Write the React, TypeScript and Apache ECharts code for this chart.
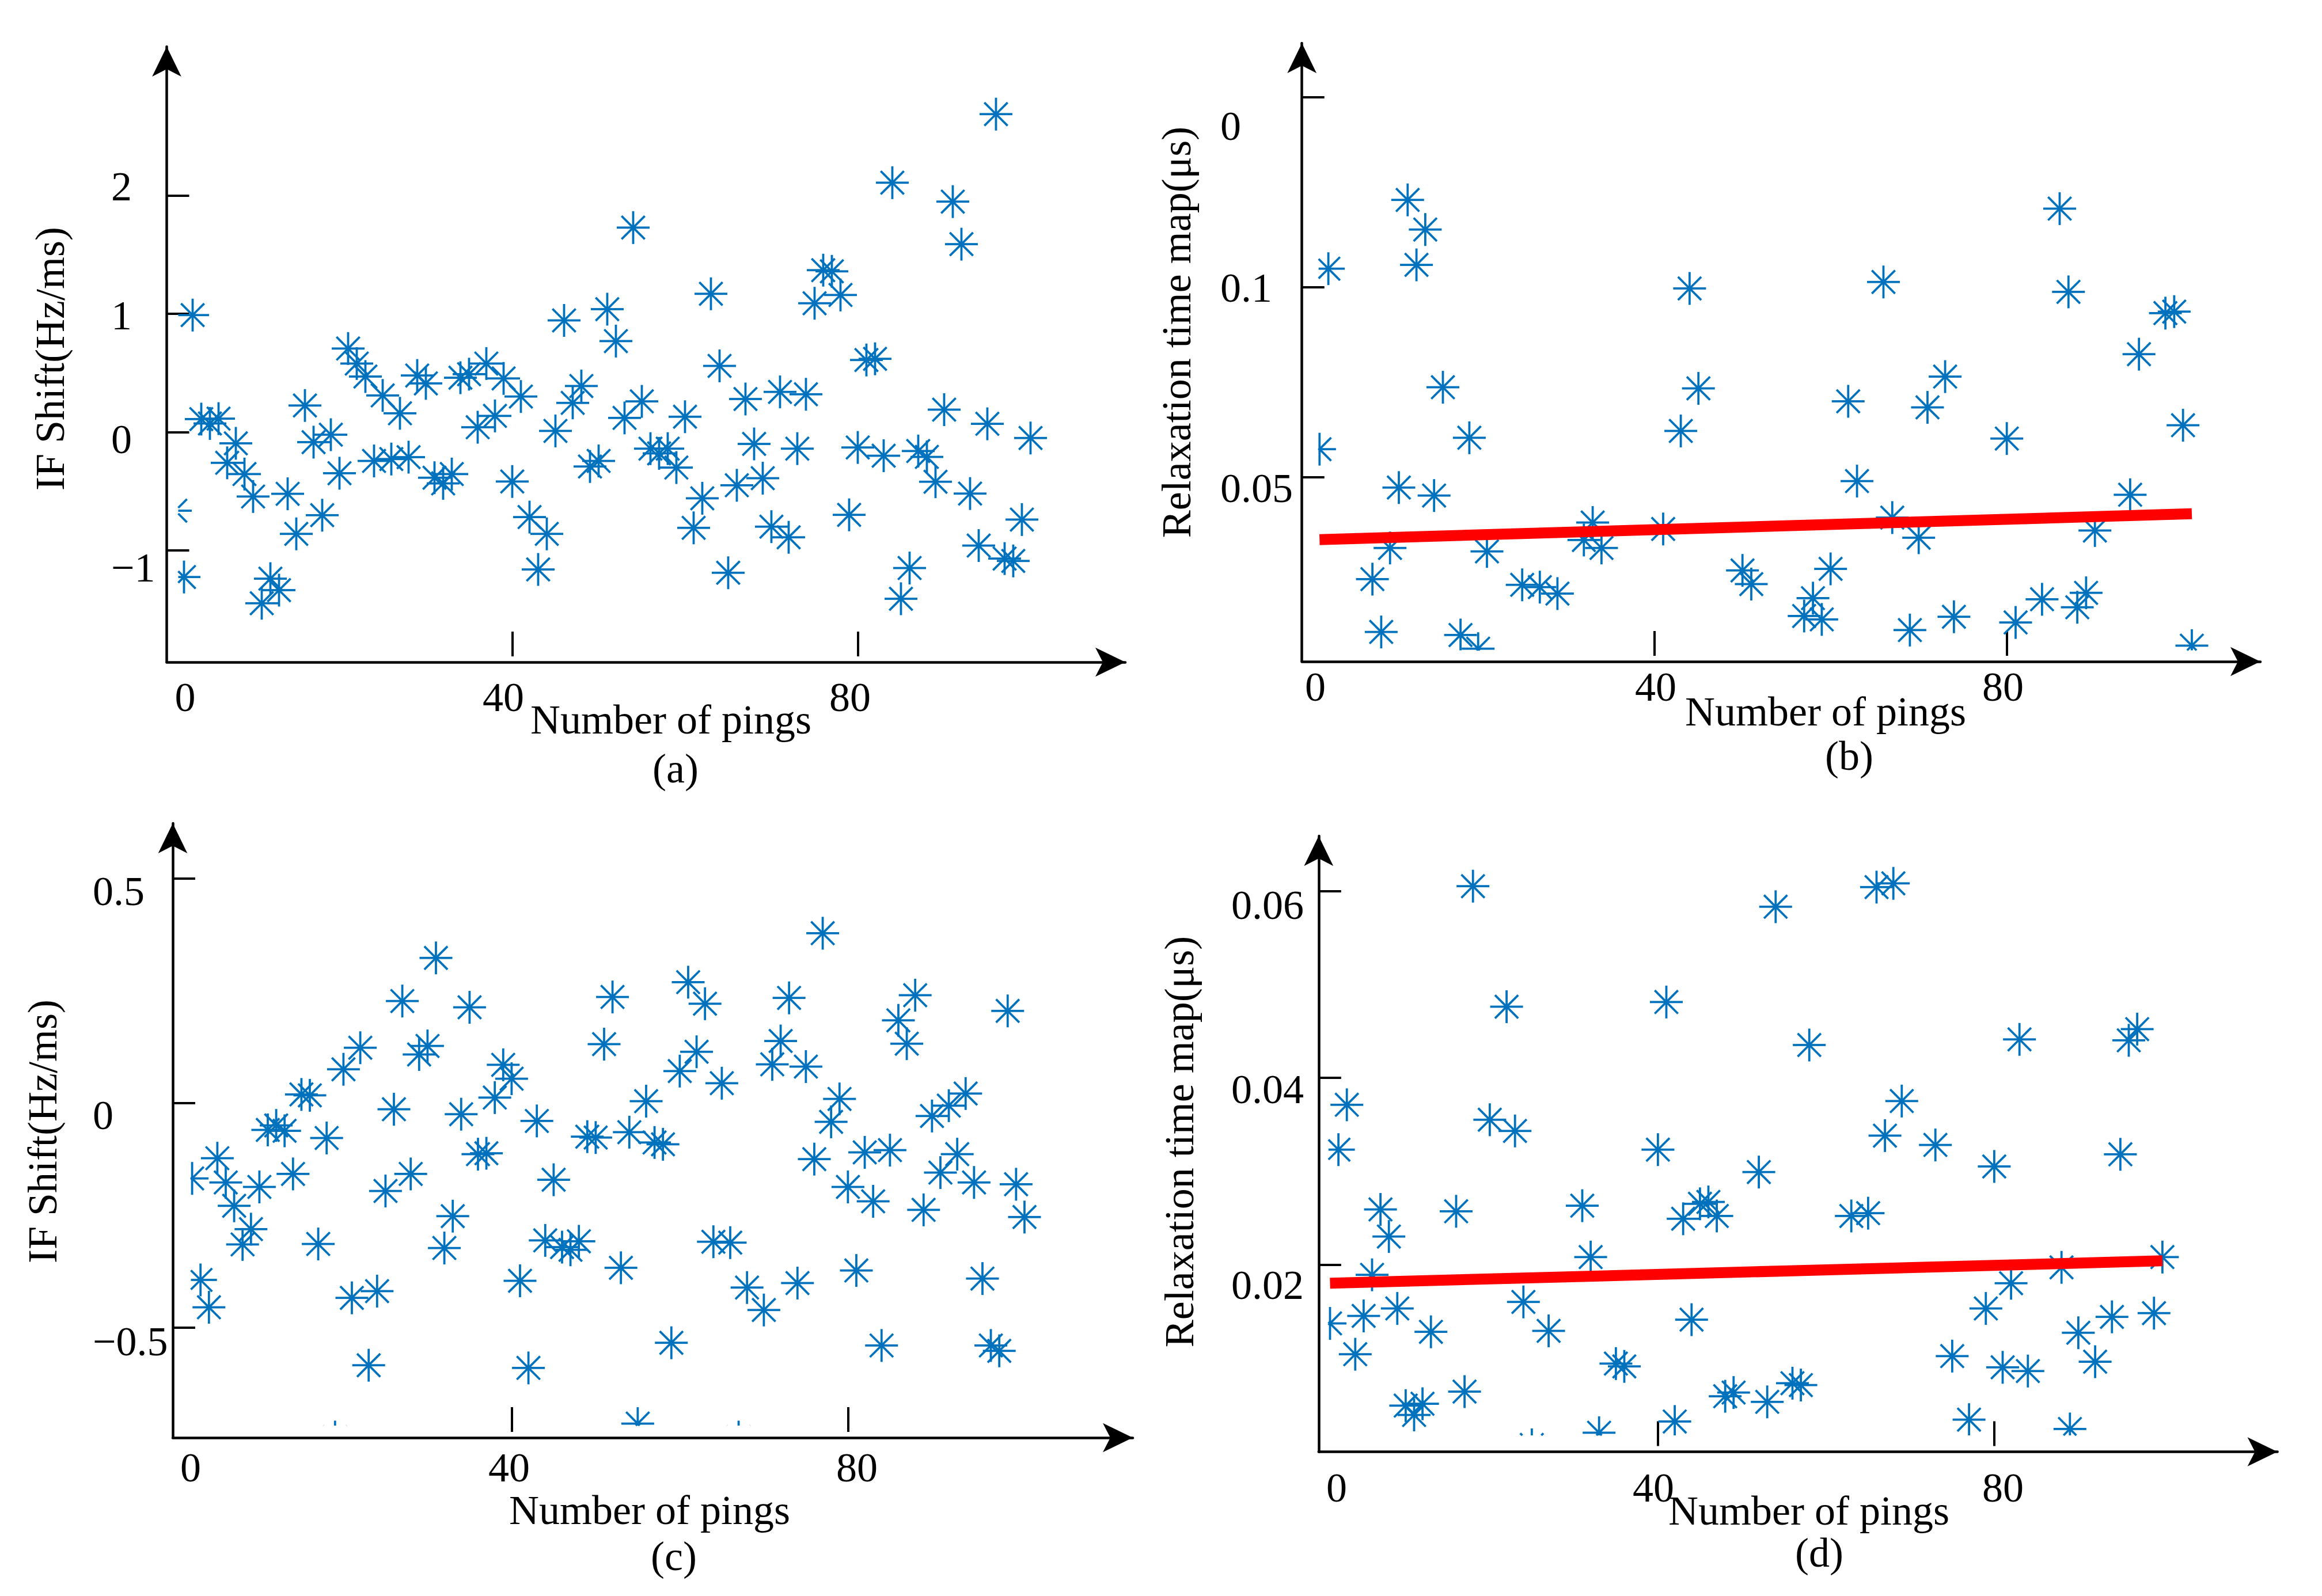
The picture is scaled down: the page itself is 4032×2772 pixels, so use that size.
import React, { useEffect, useRef } from 'react';
import * as echarts from 'echarts';

const FONT = 'Liberation Serif';
const BLUE = '#0072BD';
const RED = '#FF0000';
const STAR_R = 28.5;
const STAR_W = 3.8;

// ---------- data ----------
// (a) IF shift, pings 1..100
const pingsA = [1,2,3,4,5,6,7,8,9,10,11,12,13,14,15,16,17,18,19,20,21,22,23,24,25,26,27,28,29,30,31,32,33,34,35,36,37,38,39,40,41,42,43,44,45,46,47,48,49,50,51,52,53,54,55,56,57,58,59,60,61,62,63,64,65,66,67,68,69,70,71,72,73,74,75,76,77,78,79,80,81,82,83,84,85,86,87,88,89,90,91,92,93,94,95,96,97,98,99,100];
const ifShiftA = [
  -0.665, -1.226, 0.99, 0.11, 0.073, 0.114, -0.26, -0.095, -0.355, -0.545,
  -1.448, -1.24, -1.337, -0.522, -0.861, 0.225, -0.085, -0.703, -0.022, -0.348,
  0.707, 0.58, 0.47, -0.244, 0.31, -0.228, 0.159, -0.212, 0.479, 0.412,
  -0.386, -0.434, -0.355, 0.46, 0.49, 0.041, 0.58, 0.137, 0.454, -0.418,
  0.301, -0.719, -1.162, -0.861, 0.01, 0.945, 0.247, 0.39, -0.291, -0.244,
  1.04, 0.77, 0.12, 1.73, 0.26, -0.14, -0.18, -0.14, -0.3, 0.13,
  -0.81, -0.56, 1.17, 0.56, -1.19, -0.45, 0.28, -0.1, -0.39, -0.8,
  0.34, -0.89, -0.14, 0.32, 1.09, 1.37, 1.36, 1.16, -0.7, -0.13,
  0.61, 0.62, -0.2, 2.11, -1.41, -1.15, -0.16, -0.21, -0.42, 0.19,
  1.95, 1.59, -0.52, -0.96, 0.07, 2.69, -1.07, -1.09, -0.74, -0.05,
];

// (b) relaxation time
const pingsB = [2,3,8,9,10,11,12,13,14,15,16,18,19,20,21,25,27,29,32,33,34,41,43,44,45,50,51,57,58,59,60,62,63,66,67,69,70,71,73,74,80,81,84,86,87,88,89,90,94,95,98,99,100,101];
const relaxB = [
  0.0574, 0.1049, 0.0232, 0.0093, 0.0314, 0.0473, 0.123, 0.1059, 0.1152, 0.0452,
  0.0737, 0.0085, 0.0604, 0.0049, 0.0305, 0.0217, 0.0211, 0.0194, 0.0335, 0.0381,
  0.0314, 0.0364, 0.0622, 0.0997, 0.0734, 0.0255, 0.0219, 0.0135, 0.0182, 0.0126,
  0.0259, 0.07, 0.049, 0.1014, 0.0394, 0.0098, 0.0341, 0.0684, 0.0765, 0.0133,
  0.0602, 0.0118, 0.0179, 0.1207, 0.0988, 0.0158, 0.0196, 0.036, 0.0454, 0.0824,
  0.0932, 0.0936, 0.0637, 0.0057,
];
const trendPingsB = [2, 101];
const trendB = [0.0336, 0.0404];

// (c) IF shift
const pingsC = [2,3,4,5,6,7,8,9,10,11,12,13,14,15,16,17,18,19,20,21,22,23,24,25,26,27,28,29,30,31,32,33,34,35,36,37,38,39,40,41,42,43,44,45,46,47,48,49,50,51,52,53,54,55,56,57,58,59,60,61,62,63,64,65,66,67,68,70,71,72,73,74,75,76,77,78,79,80,81,82,83,84,85,86,87,88,89,90,91,92,93,94,95,96,97,98,99,100,101];
const ifShiftC = [
  -0.168, -0.394, -0.455, -0.123, -0.177, -0.229, -0.315, -0.281, -0.187, -0.06,
  -0.05, -0.062, -0.158, 0.019, 0.017, -0.314, -0.078, -0.744, 0.075, -0.434,
  0.123, -0.584, -0.419, -0.196, -0.014, 0.227, -0.158, 0.108, 0.127, 0.323,
  -0.323, -0.252, -0.025, 0.213, -0.114, -0.112, 0.012, 0.085, 0.054, -0.396,
  -0.59, -0.04, -0.306, -0.171, -0.321, -0.327, -0.308, -0.075, -0.077, 0.131,
  0.236, -0.367, -0.065, -0.714, 0.004, -0.088, -0.092, -0.534, 0.071, 0.269,
  0.114, 0.221, -0.309, 0.044, -0.311, -0.744, -0.411, -0.461, 0.086, 0.138,
  0.234, -0.401, 0.081, -0.125, 0.378, -0.042, 0.009, -0.187, -0.373, -0.11,
  -0.219, -0.54, -0.105, 0.184, 0.132, 0.24, -0.238, -0.029, -0.155, -0.006,
  -0.114, 0.021, -0.177, -0.391, -0.54, -0.552, 0.205, -0.181, -0.254,
];

// (d) relaxation time
const pingsD = [1,2,3,4,5,6,7,8,9,10,11,12,13,16,17,18,20,22,23,24,25,27,31,32,33,35,36,40,41,42,43,44,45,46,47,48,49,52,53,54,56,57,58,63,65,66,67,68,69,73,75,77,79,80,81,82,83,84,88,89,90,92,94,95,96,97,99,100];
const relaxD = [
  0.0137, 0.0323, 0.0371, 0.0104, 0.0145, 0.0189, 0.0259, 0.023, 0.0153, 0.0049,
  0.0039, 0.0051, 0.0128, 0.0257, 0.0064, 0.0605, 0.0355, 0.0476, 0.0343, 0.016,
  0.0007, 0.0129, 0.0263, 0.0208, 0.002, 0.0094, 0.0091, 0.0323, 0.0481, 0.0032,
  0.0249, 0.0141, 0.0265, 0.0267, 0.0252, 0.0059, 0.0063, 0.0299, 0.0053, 0.0583,
  0.0073, 0.0071, 0.0435, 0.0252, 0.0255, 0.0604, 0.0338, 0.0608, 0.0375, 0.0328,
  0.0102, 0.0034, 0.0153, 0.0305, 0.009, 0.018, 0.0441, 0.0086, 0.0197, 0.0024,
  0.0127, 0.0096, 0.0144, 0.0318, 0.044, 0.0452, 0.0148, 0.0208,
];
const trendPingsD = [1, 100];
const trendD = [0.018, 0.0204];

// tick values and tick label texts
const xTickValues = [0, 40, 80];
const xTickLabels = ['0', '40', '80'];
const xTickMarks = [40, 80];
const yTickValuesA = [2, 1, 0, -1];
const yTickLabelsA = ['2', '1', '0', '\u22121'];
const yTickValuesB = [0.15, 0.1, 0.05];
const yTickLabelsB = ['0', '0.1', '0.05'];
const yTickValuesC = [0.5, 0, -0.5];
const yTickLabelsC = ['0.5', '0', '\u22120.5'];
const yTickValuesD = [0.06, 0.04, 0.02];
const yTickLabelsD = ['0.06', '0.04', '0.02'];

const IF_TITLE = 'IF Shift(Hz/ms)';
const RT_TITLE = 'Relaxation time map(\u03bcs)';
const X_TITLE = 'Number of pings';

// ---------- layout / style ----------
const PANELS = [
  {
    pings: pingsA, values: ifShiftA, trendX: null, trendY: null,
    grid: { left: 289.5, top: 81, width: 1664.5, height: 1069 },
    xRange: [0, 110.97], yRange: [-1.946, 3.261],
    clip: { l: 20, t: 0, r: 0, b: 20 },
    yTicks: yTickValuesA, yLabels: yTickLabelsA, yDy: [-16, 3, 13, 30], yMargin: 96.5,
    xDx: [32, -15.5, -13.5], xMargin: 25,
    yTitle: { x: 87, y: 623, text: IF_TITLE },
    xTitle: { x: 1165, y: 1250 }, caption: { x: 1173, y: 1335, text: '(a)' },
  },
  {
    pings: pingsB, values: relaxB, trendX: trendPingsB, trendY: trendB,
    grid: { left: 2260.7, top: 75, width: 1664.3, height: 1074 },
    xRange: [0, 108.78], yRange: [0.001515, 0.16424],
    clip: { l: 29, t: 0, r: 0, b: 19.5 },
    yTicks: yTickValuesB, yLabels: yTickLabelsB, yDy: [50, 1, 19], yMargin: 141.7,
    xDx: [23.3, 2.3, -6.7], xMargin: 8,
    yTitle: { x: 2043, y: 577, text: RT_TITLE },
    xTitle: { x: 3170, y: 1236 }, caption: { x: 3211, y: 1313, text: '(b)' },
  },
  {
    pings: pingsC, values: ifShiftC, trendX: null, trendY: null,
    grid: { left: 300, top: 1430, width: 1667, height: 1067 },
    xRange: [-0.3014, 113.88], yRange: [-0.7453, 0.6227],
    clip: { l: 31.5, t: 0, r: 0, b: 21 },
    yTicks: yTickValuesC, yLabels: yTickLabelsC, yDy: [22, 21, 24], yMargin: 139,
    xDx: [26.6, -4.4, 15.6], xMargin: 16,
    yTitle: { x: 74, y: 1965, text: IF_TITLE },
    xTitle: { x: 1128, y: 2623 }, caption: { x: 1170, y: 2703, text: '(c)' },
  },
  {
    pings: pingsD, values: relaxD, trendX: trendPingsD, trendY: trendD,
    grid: { left: 2289.8, top: 1452, width: 1664.8, height: 1069.5 },
    xRange: [-0.3493, 113.68], yRange: [-0.00004, 0.06587],
    clip: { l: 17, t: 0, r: 0, b: 28.5 },
    yTicks: yTickValuesD, yLabels: yTickLabelsD, yDy: [25, 20, 36], yMargin: 151.8,
    xDx: [26, -8, 15], xMargin: 26,
    yTitle: { x: 2048, y: 1983, text: RT_TITLE },
    xTitle: { x: 3141, y: 2624 }, caption: { x: 3159, y: 2697, text: '(d)' },
  },
];

function clipSeg(x0: number, y0: number, x1: number, y1: number, r: any) {
  let t0 = 0, t1 = 1;
  const dx = x1 - x0, dy = y1 - y0;
  const p = [-dx, dx, -dy, dy];
  const q = [x0 - r.x1, r.x2 - x0, y0 - r.y1, r.y2 - y0];
  for (let i = 0; i < 4; i++) {
    if (Math.abs(p[i]) < 1e-9) {
      if (q[i] < 0) return null;
    } else {
      const t = q[i] / p[i];
      if (p[i] < 0) {
        if (t > t1) return null;
        if (t > t0) t0 = t;
      } else {
        if (t < t0) return null;
        if (t < t1) t1 = t;
      }
    }
  }
  if (t1 - t0 < 1e-6) return null;
  return [x0 + t0 * dx, y0 + t0 * dy, x0 + t1 * dx, y0 + t1 * dy];
}

function makeStarRenderer(clip: any) {
  return (params: any, api: any) => {
    const cs = params.coordSys;
    const rect = { x1: cs.x + clip.l, y1: cs.y + clip.t, x2: cs.x + cs.width - clip.r, y2: cs.y + cs.height - clip.b };
    const c = api.coord([api.value(0), api.value(1)]);
    const children: any[] = [];
    for (let a = 0; a < 8; a++) {
      const ang = (a * Math.PI) / 4;
      const seg = clipSeg(c[0], c[1], c[0] + Math.cos(ang) * STAR_R, c[1] + Math.sin(ang) * STAR_R, rect);
      if (seg) {
        children.push({
          type: 'line',
          shape: { x1: seg[0], y1: seg[1], x2: seg[2], y2: seg[3] },
          style: { stroke: BLUE, lineWidth: STAR_W, fill: null },
        });
      }
    }
    return { type: 'group', children };
  };
}

function richFor(texts: string[], dx: number[], dy: number[]) {
  const rich: Record<string, any> = {};
  texts.forEach((_, i) => {
    rich['t' + i] = {
      fontFamily: FONT, fontSize: 72, color: '#000',
      padding: [Math.max(0, 2 * dy[i]), Math.max(0, -2 * dx[i]), Math.max(0, -2 * dy[i]), Math.max(0, 2 * dx[i])],
    };
  });
  return rich;
}
function formatterFor(values: number[], texts: string[]) {
  return (v: any) => {
    const n = Number(v);
    const i = values.findIndex((u) => Math.abs(u - n) < 1e-9);
    return i < 0 ? '' : '{t' + i + '|' + texts[i] + '}';
  };
}

function buildOption() {
  const grid: any[] = [];
  const xAxis: any[] = [];
  const yAxis: any[] = [];
  const series: any[] = [];
  const graphic: any[] = [];
  const axisLineStyle = { color: '#000', width: 4.5 };
  const textStyle = { fontFamily: FONT, fontSize: 72, fill: '#000', align: 'center', verticalAlign: 'middle' };

  PANELS.forEach((p, i) => {
    grid.push({ ...p.grid, containLabel: false });
    xAxis.push({
      type: 'value', gridIndex: i, position: 'bottom', min: p.xRange[0], max: p.xRange[1],
      axisLine: { show: true, onZero: false, symbol: ['none', 'arrow'], symbolSize: [38, 52], lineStyle: axisLineStyle },
      axisTick: { show: false },
      splitLine: { show: false },
      axisLabel: {
        show: true, customValues: xTickValues, showMinLabel: true, showMaxLabel: true,
        formatter: formatterFor(xTickValues, xTickLabels),
        rich: richFor(xTickLabels, p.xDx, [0, 0, 0]),
        margin: p.xMargin, fontFamily: FONT, fontSize: 72, color: '#000',
      },
    });
    yAxis.push({
      type: 'value', gridIndex: i, position: 'left', min: p.yRange[0], max: p.yRange[1],
      axisLine: { show: true, onZero: false, symbol: ['none', 'arrow'], symbolSize: [38, 52], lineStyle: axisLineStyle },
      axisTick: { show: true, inside: true, length: 39, customValues: p.yTicks, lineStyle: { color: '#000', width: 4 } },
      splitLine: { show: false },
      axisLabel: {
        show: true, customValues: p.yTicks, showMinLabel: true, showMaxLabel: true,
        formatter: formatterFor(p.yTicks, p.yLabels),
        rich: richFor(p.yLabels, p.yTicks.map(() => 0), p.yDy),
        align: 'left', margin: p.yMargin, fontFamily: FONT, fontSize: 72, color: '#000',
      },
    });
    series.push({
      type: 'custom', xAxisIndex: i, yAxisIndex: i, silent: true, z: 2,
      renderItem: makeStarRenderer(p.clip),
      data: p.pings.map((x, k) => [x, p.values[k]]),
    });
    if (p.trendX && p.trendY) {
      series.push({
        type: 'line', xAxisIndex: i, yAxisIndex: i, silent: true, z: 3,
        showSymbol: false, symbol: 'none',
        lineStyle: { color: RED, width: 19, cap: 'butt' },
        data: p.trendX.map((x, k) => [x, p.trendY![k]]),
      });
    }
    graphic.push({ type: 'text', x: p.yTitle.x, y: p.yTitle.y, rotation: Math.PI / 2, style: { ...textStyle, text: p.yTitle.text } });
    graphic.push({ type: 'text', x: p.xTitle.x, y: p.xTitle.y, style: { ...textStyle, text: X_TITLE } });
    graphic.push({ type: 'text', x: p.caption.x, y: p.caption.y, style: { ...textStyle, text: p.caption.text } });
  });

  // tick-only x axes (short marks standing slightly above the axis line)
  PANELS.forEach((p, i) => {
    xAxis.push({
      type: 'value', gridIndex: i, position: 'bottom', min: p.xRange[0], max: p.xRange[1], offset: -10,
      axisLine: { show: false, onZero: false },
      axisTick: { show: true, inside: true, length: 43, customValues: xTickMarks, lineStyle: { color: '#000', width: 4 } },
      axisLabel: { show: false },
      splitLine: { show: false },
    });
  });

  return {
    animation: false,
    backgroundColor: '#ffffff',
    grid, xAxis, yAxis, series, graphic,
  };
}

export default function App() {
  const ref = useRef<HTMLDivElement>(null);
  useEffect(() => {
    if (!ref.current) return;
    const chart = echarts.init(ref.current, null, { renderer: 'svg', width: 4032, height: 2772 });
    chart.setOption(buildOption() as any);
    return () => chart.dispose();
  }, []);
  return (
    <div
      ref={ref}
      style={{ position: 'fixed', left: 0, top: 0, width: 4032, height: 2772, background: '#fff' }}
    />
  );
}
